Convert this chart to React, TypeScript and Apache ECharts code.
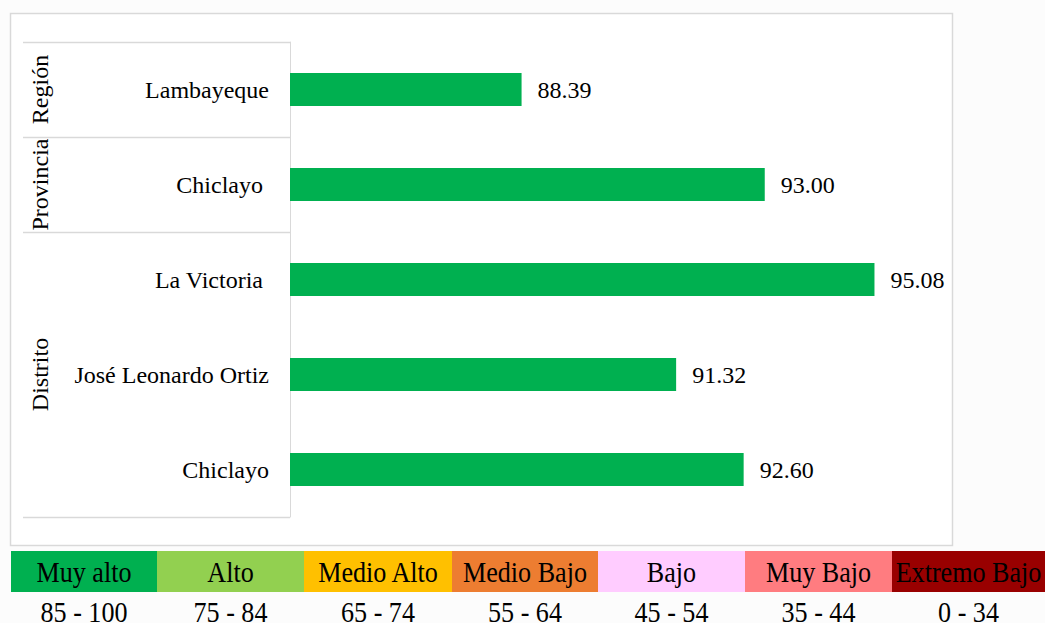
import React, { useEffect, useRef } from "react";
import * as echarts from "echarts";

const categories = ["Lambayeque", "Chiclayo", "La Victoria", "José Leonardo Ortiz", "Chiclayo"];
const values = [88.39, 93.0, 95.08, 91.32, 92.6];
const padRight = [0, 6, 6, 0, 0];
const groupNames = ["Región", "Provincia", "Distrito"];
const groupStart = [0, 1, 2];
const groupEnd = [0, 1, 4];
const levelNames = ["Muy alto", "Alto", "Medio Alto", "Medio Bajo", "Bajo", "Muy Bajo", "Extremo Bajo"];
const levelRanges = ["85 - 100", "75 - 84", "65 - 74", "55 - 64", "45 - 54", "35 - 44", "0 - 34"];
const levelColors = ["#00B050", "#92D050", "#FFC000", "#ED7D31", "#FFCCFF", "#FF7C80", "#990000"];

const FONT = "'Liberation Serif', 'Times New Roman', serif";
const LINE = "#d9d9d9";

export default function App() {
  const ref = useRef<HTMLDivElement>(null);
  useEffect(() => {
    const chart = echarts.init(ref.current!, null, { renderer: "svg" });
    chart.setOption({
      animation: false,
      backgroundColor: "#fcfcfc",
      grid: { left: 290, right: 122, top: 42, bottom: 106, containLabel: false },
      xAxis: { type: "value", min: 84, max: 96, show: false },
      yAxis: {
        type: "category",
        inverse: true,
        data: categories,
        axisLine: { show: true, lineStyle: { color: LINE, width: 1 } },
        axisTick: { show: false },
        axisLabel: {
          margin: 21,
          fontSize: 24,
          fontFamily: FONT,
          color: "#000",
          formatter: (v: string, i: number) => (padRight[i] ? `{p|${v}}` : v),
          rich: { p: { padding: [0, 6, 0, 0], fontSize: 24, fontFamily: FONT, color: "#000" } },
        },
      },
      series: [
        {
          type: "bar",
          data: values,
          barWidth: 33,
          itemStyle: { color: "#00B050" },
          label: {
            show: true,
            position: "right",
            distance: 16,
            fontSize: 24,
            fontFamily: FONT,
            color: "#000",
            formatter: (p: any) => Number(p.value).toFixed(2),
          },
        },
      ],
    });

    const c0 = chart.convertToPixel({ yAxisIndex: 0 }, 0) as number;
    const c1 = chart.convertToPixel({ yAxisIndex: 0 }, 1) as number;
    const band = c1 - c0;
    const axisX = chart.convertToPixel({ xAxisIndex: 0 }, 84) as number;
    const graphics: any[] = [
      {
        type: "rect",
        z: -10,
        silent: true,
        shape: { x: 10.5, y: 13.5, width: 942, height: 532 },
        style: { fill: "#fff", stroke: LINE, lineWidth: 1.5 },
      },
    ];
    const bounds = new Set<number>();
    groupNames.forEach((g, k) => {
      const top = (chart.convertToPixel({ yAxisIndex: 0 }, groupStart[k]) as number) - band / 2;
      const bot = (chart.convertToPixel({ yAxisIndex: 0 }, groupEnd[k]) as number) + band / 2;
      bounds.add(Math.round(top) + 0.5);
      bounds.add(Math.round(bot) + 0.5);
      graphics.push({
        type: "text",
        x: 40,
        y: (top + bot) / 2,
        rotation: Math.PI / 2,
        style: {
          text: g,
          fontSize: 24,
          fontFamily: FONT,
          fill: "#000",
          align: "center",
          verticalAlign: "middle",
        },
      });
    });
    bounds.forEach((y) => {
      graphics.push({
        type: "line",
        silent: true,
        shape: { x1: 23, y1: y, x2: axisX, y2: y },
        style: { stroke: LINE, lineWidth: 1.5 },
      });
    });
    const cellX = [11, 157, 304, 452, 598, 745, 892, 1045];
    levelNames.forEach((n, i) => {
      const x0 = cellX[i];
      const w = cellX[i + 1] - x0;
      graphics.push({
        type: "rect",
        shape: { x: x0, y: 551, width: w, height: 41 },
        style: { fill: levelColors[i] },
      });
      graphics.push({
        type: "text",
        x: x0 + w / 2,
        y: 572,
        scaleX: 0.87,
        z: 5,
        style: { text: n, fontSize: 30, fontFamily: FONT, fill: "#000", align: "center", verticalAlign: "middle" },
      });
      graphics.push({
        type: "text",
        x: x0 + w / 2,
        y: 612,
        scaleX: 0.87,
        style: { text: levelRanges[i], fontSize: 30, fontFamily: FONT, fill: "#000", align: "center", verticalAlign: "middle" },
      });
    });
    chart.setOption({ graphic: graphics });
    return () => chart.dispose();
  }, []);
  return <div ref={ref} style={{ position: "fixed", left: 0, top: 0, width: 1045, height: 623 }} />;
}
